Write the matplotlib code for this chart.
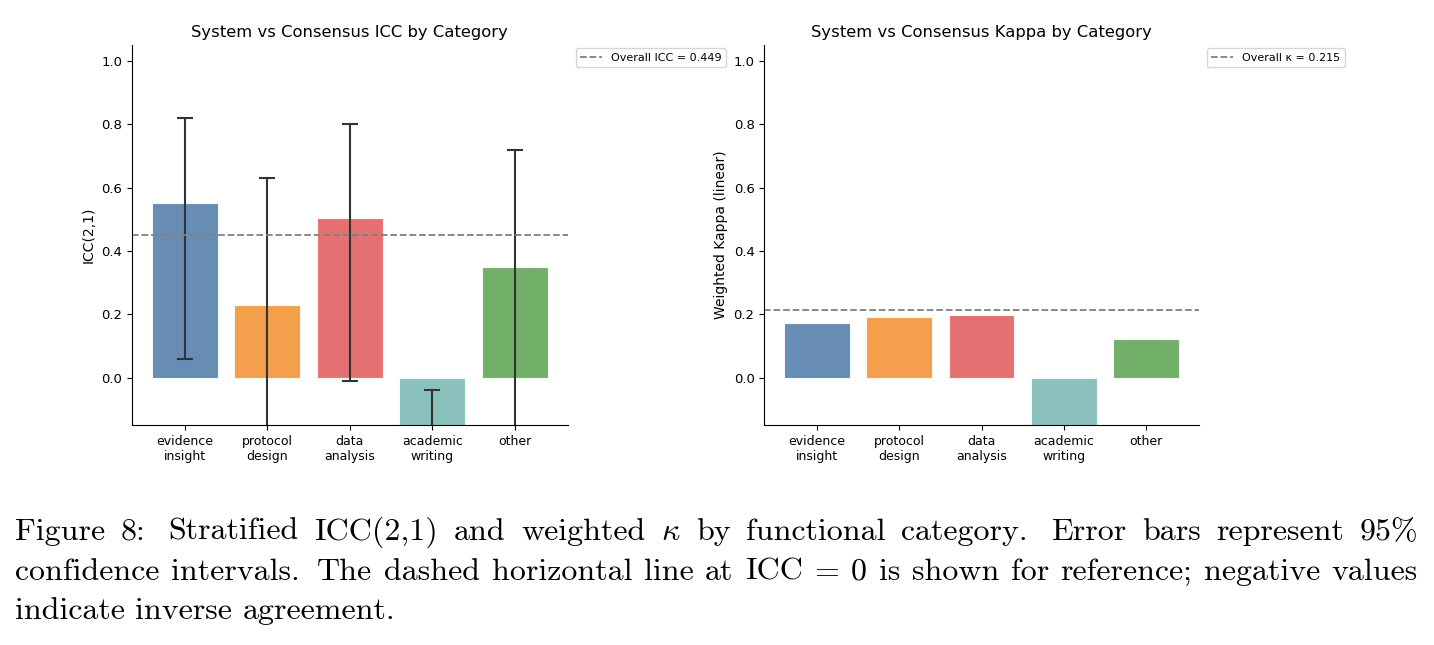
import numpy as np
import matplotlib
matplotlib.use("Agg")
import matplotlib.pyplot as plt

# data
categories = ["evidence\ninsight", "protocol\ndesign", "data\nanalysis", "academic\nwriting", "other"]
icc = [0.55, 0.23, 0.505, -0.25, 0.35]
icc_lo = [0.06, -0.45, -0.01, -0.60, -0.30]
icc_hi = [0.82, 0.63, 0.80, -0.04, 0.72]
kappa = [0.172, 0.192, 0.197, -0.20, 0.122]
overall_icc = 0.449
overall_kappa = 0.215
colors = ["#4E79A7", "#F28E2B", "#E15759", "#76B7B2", "#59A14F"]

caption = [
    r"Figure 8: Stratified ICC(2,1) and weighted $\kappa$ by functional category. Error bars represent 95%",
    "confidence intervals. The dashed horizontal line at ICC = 0 is shown for reference; negative values",
    "indicate inverse agreement.",
]

plt.rcParams["mathtext.fontset"] = "cm"

fig = plt.figure(figsize=(14.34, 6.45), dpi=100)
ax1 = fig.add_axes([0.092, 0.341, 0.304, 0.589])
ax2 = fig.add_axes([0.533, 0.341, 0.303, 0.589])

x = np.arange(len(categories))
yerr = np.array([np.array(icc) - np.array(icc_lo), np.array(icc_hi) - np.array(icc)])

ax1.bar(x, icc, width=0.8, color=colors, alpha=0.85, edgecolor="white", linewidth=0.8)
ax1.errorbar(x, icc, yerr=yerr, fmt="none", ecolor="#333333", elinewidth=1.5,
             capsize=6, capthick=1.5)
ax1.axhline(overall_icc, color="gray", linestyle="--", linewidth=1.3,
            label=f"Overall ICC = {overall_icc:.3f}")
ax1.set_ylabel("ICC(2,1)", fontsize=10)
ax1.set_title("System vs Consensus ICC by Category", fontsize=11.75)

ax2.bar(x, kappa, width=0.8, color=colors, alpha=0.85, edgecolor="white", linewidth=0.8)
ax2.axhline(overall_kappa, color="gray", linestyle="--", linewidth=1.3,
            label=f"Overall \u03ba = {overall_kappa:.3f}")
ax2.set_ylabel("Weighted Kappa (linear)", fontsize=10)
ax2.set_title("System vs Consensus Kappa by Category", fontsize=11.75)

for ax in (ax1, ax2):
    ax.set_xticks(x)
    ax.set_xticklabels(categories, fontsize=9)
    ax.tick_params(axis="y", labelsize=9.5)
    ax.set_ylim(-0.15, 1.05)
    ax.set_yticks([0.0, 0.2, 0.4, 0.6, 0.8, 1.0])
    ax.spines["top"].set_visible(False)
    ax.spines["right"].set_visible(False)
    ax.legend(loc="upper left", bbox_to_anchor=(1.01, 1.0), fontsize=8,
              borderaxespad=0.3, fancybox=True)

# caption, justified like the LaTeX original (last line ragged)
cap_font = dict(fontsize=23, family=["cmr10", "DejaVu Serif"], va="baseline", ha="left")
x0, x1 = 15, 1418
baselines = [540, 580, 619]
fig.canvas.draw()
renderer = fig.canvas.get_renderer()
W, H = fig.bbox.width, fig.bbox.height

def text_width(s):
    t = fig.text(0, 0, s, **cap_font)
    w = t.get_window_extent(renderer).width
    t.remove()
    return w

space = text_width("a a") - text_width("aa")
for i, line in enumerate(caption):
    words = line.split(" ")
    widths = [text_width(w) for w in words]
    weights = [1.5 if w[-1] in ".:" else 1.0 for w in words[:-1]]
    if i < len(caption) - 1:
        gap = (x1 - x0 - sum(widths)) / sum(weights)
    else:
        gap = space
    xpos = x0
    for j, w in enumerate(words):
        fig.text(xpos / W, 1 - baselines[i] / H, w, **cap_font)
        if j < len(weights):
            xpos += widths[j] + gap * weights[j]

fig.savefig("out.png", dpi=100)
